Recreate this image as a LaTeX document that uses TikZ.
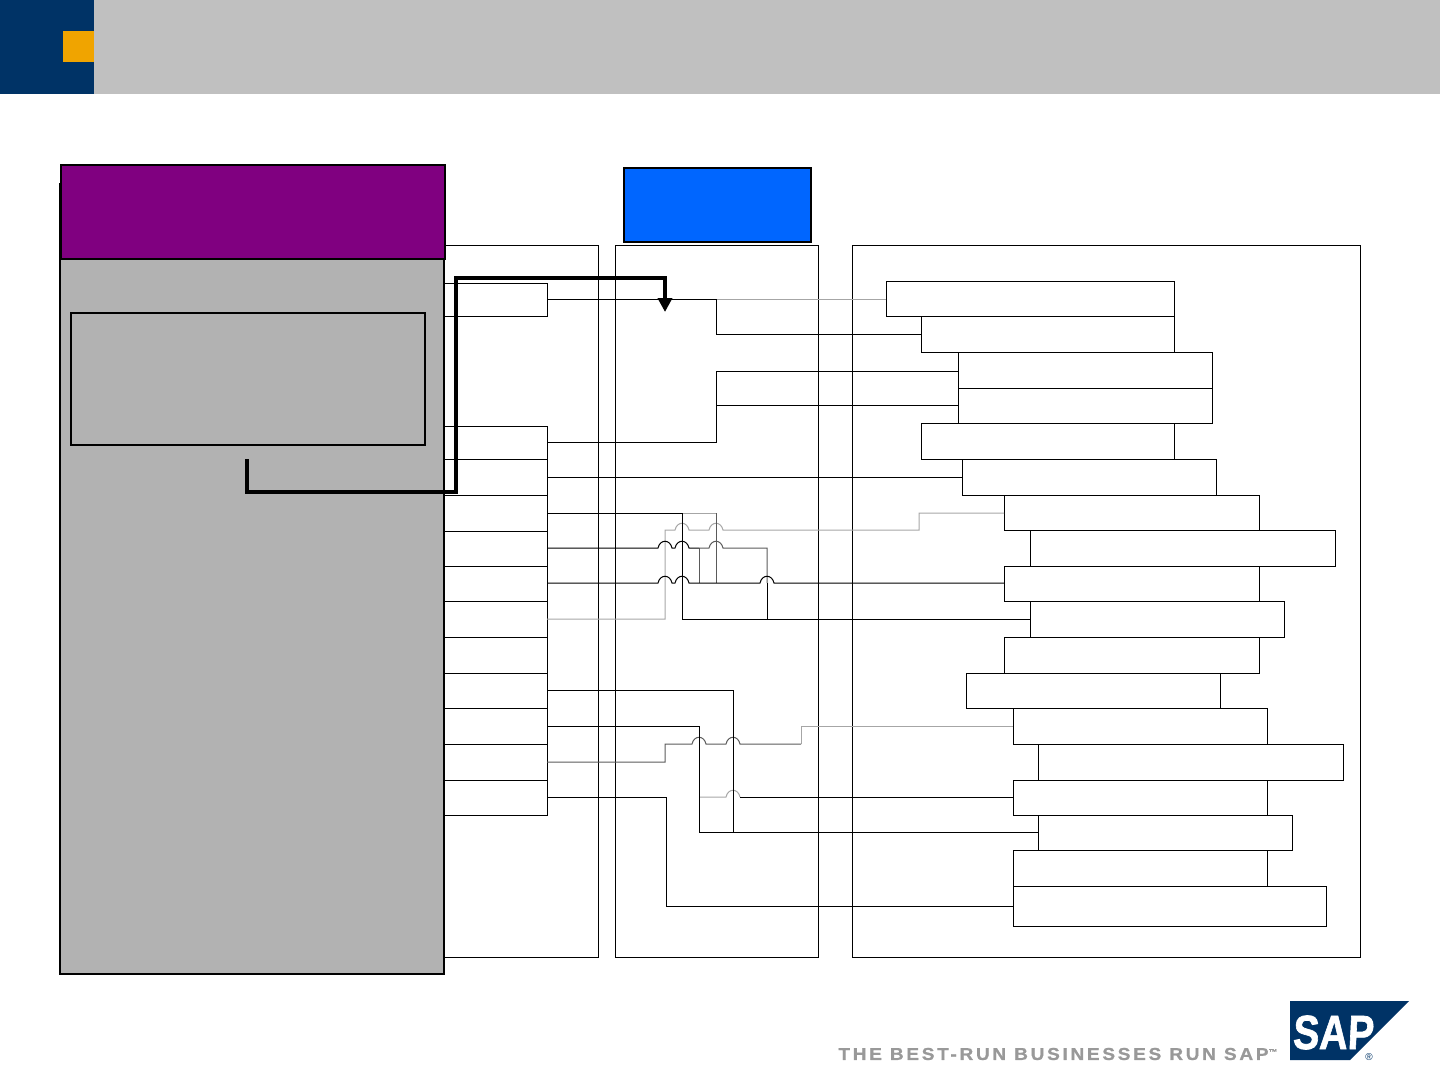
\documentclass[tikz,border=0pt]{standalone}
\usepackage{fontspec}
\setmainfont{Liberation Sans}
\newfontfamily\tagfont[LetterSpace=14,FakeBold=0.8]{Liberation Sans Bold}
\newfontfamily\logofont[FakeBold=1.5,FakeSlant=0.06]{Liberation Sans Bold}
\usetikzlibrary{arrows.meta}
\definecolor{sapnavy}{HTML}{003366}
\definecolor{sapgold}{HTML}{F0A400}
\definecolor{sapband}{HTML}{C0C0C0}
\definecolor{panelgray}{HTML}{B2B2B2}
\definecolor{headpurple}{HTML}{800080}
\definecolor{headblue}{HTML}{0066FF}
\definecolor{lightwire}{HTML}{A6A6A6}
\definecolor{darkwire}{HTML}{5A5A5A}
\definecolor{tagline}{HTML}{999999}
\tikzset{
  cellbox/.style={draw=black,line width=0.5pt,fill=white,inner sep=0pt,outer sep=0pt,anchor=north west},
  framebox/.style={cellbox,fill=none},
  wire/.style={draw=black,line width=0.5pt,line join=miter},
  lwire/.style={draw=lightwire,line width=0.5pt},
  dwire/.style={draw=darkwire,line width=0.5pt},
  flowline/.style={draw=black,line width=2.2pt,line join=miter,-{Triangle[length=7pt,width=7pt]}},
}
\newcommand{\boxat}[6][cellbox]{\node[#1,minimum width={(#5-#3)*0.5pt},minimum height={(#6-#4)*0.5pt}] (#2) at (#3,#4) {};}
\newcommand{\hop}[2]{-- (#1-7,#2) .. controls (#1-5,#2-9) and (#1+5,#2-9) .. (#1+7,#2)}
\begin{document}
\begin{tikzpicture}[x=0.5pt,y=-0.5pt]
\useasboundingbox (0,0) rectangle (1440,1065);
% header
\fill[sapband] (94,0) rectangle (1440,94);
\fill[sapnavy] (0,0) rectangle (94,94);
\fill[sapgold] (63,31) rectangle (94,62);
% frames
\boxat[framebox]{framea}{444}{245}{598}{957}
\boxat[framebox]{frameb}{615}{245}{818}{957}
\boxat[framebox]{framec}{852}{245}{1360}{957}
% source cells
\boxat{s1}{444}{283}{547}{316}
\boxat{s2}{444}{426}{547}{459}
\boxat{s3}{444}{459}{547}{495}
\boxat{s4}{444}{495}{547}{531}
\boxat{s5}{444}{531}{547}{566}
\boxat{s6}{444}{566}{547}{601}
\boxat{s7}{444}{601}{547}{637}
\boxat{s8}{444}{637}{547}{673}
\boxat{s9}{444}{673}{547}{708}
\boxat{s10}{444}{708}{547}{744}
\boxat{s11}{444}{744}{547}{780}
\boxat{s12}{444}{780}{547}{815}
% target cells
\boxat{t1}{886}{281}{1174}{316}
\boxat{t2}{921}{316}{1174}{352}
\boxat{t3}{958}{352}{1212}{388}
\boxat{t4}{958}{388}{1212}{423}
\boxat{t5}{921}{423}{1174}{459}
\boxat{t6}{962}{459}{1216}{495}
\boxat{t7}{1004}{495}{1259}{530}
\boxat{t8}{1030}{530}{1335}{566}
\boxat{t9}{1004}{566}{1259}{601}
\boxat{t10}{1030}{601}{1284}{637}
\boxat{t11}{1004}{637}{1259}{673}
\boxat{t12}{966}{673}{1220}{708}
\boxat{t13}{1013}{708}{1267}{744}
\boxat{t14}{1038}{744}{1343}{780}
\boxat{t15}{1013}{780}{1267}{815}
\boxat{t16}{1038}{815}{1292}{850}
\boxat{t17}{1013}{850}{1267}{886}
\boxat{t18}{1013}{886}{1326}{926}
% light wires
\draw[lwire] (716,299) -- (t1.west |- 716,299);
\draw[lwire] (682,513) -- (716,513);
\draw[lwire] (s7.east |- 0,619) -- (665,619) -- (665,530) \hop{682}{530} \hop{716}{530} -- (919,530) -- (919,513) -- (t7.west |- 919,513);
\draw[lwire] (801,744) -- (801,726) -- (t13.west |- 801,726);
\draw[lwire] (699,797) \hop{733}{797};
% dark wires
\draw[dwire] (716,513) -- (716,583);
\draw[dwire] (699,548) -- (699,583);
\draw[dwire] (699,548) \hop{716}{548} -- (767,548) -- (767,583);
\draw[dwire] (s11.east |- 0,762) -- (665,762) -- (665,744) \hop{699}{744} \hop{733}{744} -- (801,744);
% black wires
\draw[wire] (s1.east |- 0,299) -- (716,299) -- (716,334) -- (t2.west |- 716,334);
\draw[wire] (s2.east |- 0,442) -- (716,442) -- (716,371) -- (t3.west |- 716,371);
\draw[wire] (716,405) -- (t4.west |- 716,405);
\draw[wire] (s3.east |- 0,477) -- (t6.west |- 0,477);
\draw[wire] (s4.east |- 0,513) -- (682,513) -- (682,619) -- (t10.west |- 682,619);
\draw[wire] (s5.east |- 0,548) \hop{665}{548} \hop{682}{548} -- (699,548);
\draw[wire] (s6.east |- 0,583) \hop{665}{583} \hop{682}{583} \hop{767}{583} -- (t9.west |- 0,583);
\draw[wire] (767,583) -- (767,619);
\draw[wire] (s9.east |- 0,690) -- (733,690) -- (733,832);
\draw[wire] (s10.east |- 0,726) -- (699,726) -- (699,832) -- (t16.west |- 699,832);
\draw[wire] (740,797) -- (t15.west |- 740,797);
\draw[wire] (s12.east |- 0,797) -- (666,797) -- (666,906) -- (t18.west |- 666,906);
% left panel
\boxat[cellbox,fill=panelgray,line width=1pt]{leftpanel}{60}{184}{444}{974}
\boxat[cellbox,fill=headpurple,line width=1pt]{purplehead}{61}{165}{445}{259}
\boxat[cellbox,fill=panelgray,line width=0.8pt]{innerbox}{71}{313}{425}{445}
\boxat[cellbox,fill=headblue,line width=1pt]{bluehead}{624}{168}{811}{242}
% thick flow arrow
\coordinate (flowstart) at (247,459);
\coordinate (flowend) at (665,312);
\draw[flowline] (flowstart) -- (247,492) -- (456,492) -- (456,278) -- (665,278) -- (flowend);
% footer
\node[inner sep=0pt,anchor=west,text=tagline] (tagtext) at (838,1054) {\scalebox{1.11}[1]{\tagfont\fontsize{8.6pt}{8.6pt}\selectfont THE BEST-RUN BUSINESSES RUN SAP\raisebox{2.6pt}{\fontsize{4pt}{4pt}\selectfont ™}}};
\fill[sapnavy] (1290,1001) -- (1409,1001) -- (1350,1060) -- (1290,1060) -- cycle;
\node[inner sep=0pt,anchor=base,text=white,font=\logofont\fontsize{24pt}{24pt}\selectfont] (saplogo) at (1333,1049) {\scalebox{.82}[1]{SAP}};
\node[inner sep=0pt,text=sapnavy,font=\fontsize{5pt}{5pt}\selectfont] (sapreg) at (1369,1057) {®};
\end{tikzpicture}
\end{document}
